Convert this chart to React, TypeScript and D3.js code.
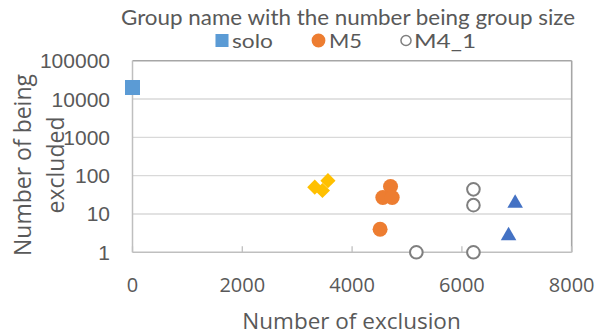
import React from 'react';
import * as d3 from 'd3';

const xTicks = [0, 2000, 4000, 6000, 8000];
const yTicks = [1, 10, 100, 1000, 10000, 100000];
const yTickLabels = ['1', '10', '100', '1000', '10000', '100000'];

const soloX = [0];
const soloY = [20000];
const m5X = [4510, 4700, 4560, 4730];
const m5Y = [4, 52, 27, 27];
const m41X = [5170, 6210, 6210, 6210];
const m41Y = [1, 1, 17, 44];
const diamondX = [3320, 3460, 3560];
const diamondY = [50, 41, 74];
const triangleX = [6850, 6970];
const triangleY = [2.7, 19];

const legendNames = ['solo', 'M5', 'M4_1'];

const W = 596;
const H = 336;
const TXT = '#595959';

export default function App() {
  const x = d3.scaleLinear().domain([0, 8000]).range([132.5, 571.7]);
  const y = d3.scaleLog().domain([1, 100000]).range([252.3, 60.7]);

  const square = d3.symbol().type(d3.symbolSquare).size(225)()!;
  const circle = d3.symbol().type(d3.symbolCircle).size(177)()!;
  const openCircle = d3.symbol().type(d3.symbolCircle).size(125)()!;
  const tri = d3.symbol().type(d3.symbolTriangle).size(105)()!;
  const dia = d3.symbol().type(d3.symbolSquare).size(115)()!;

  const legSquare = d3.symbol().type(d3.symbolSquare).size(170)()!;
  const legCircle = d3.symbol().type(d3.symbolCircle).size(150)()!;
  const legOpen = d3.symbol().type(d3.symbolCircle).size(80)()!;

  const x0 = x.range()[0];
  const x1 = x.range()[1];
  const yb = y.range()[0];
  const yt = y.range()[1];

  return (
    <svg width={W} height={H} style={{ position: 'absolute', left: 0, top: 0, background: '#fff' }}>
      <rect x={0} y={0} width={W} height={H} fill="#fff" />
      {/* title */}
      <text x={121} y={24.5} textLength={454} lengthAdjust="spacingAndGlyphs" fontFamily="Lato" fontSize={20.5} fill={TXT}>
        Group name with the number being group size
      </text>
      {/* legend */}
      <g fontFamily="Lato" fontSize={19} fill={TXT}>
        <path d={legSquare} transform="translate(222,40.5)" fill="#5b9bd5" />
        <text x={232} y={48} textLength={41} lengthAdjust="spacingAndGlyphs">{legendNames[0]}</text>
        <path d={legCircle} transform="translate(318.5,40.5)" fill="#ed7d31" />
        <text x={329} y={48} textLength={33} lengthAdjust="spacingAndGlyphs">{legendNames[1]}</text>
        <path d={legOpen} transform="translate(406,40.5)" fill="#fff" stroke="#7f7f7f" strokeWidth={1.5} />
        <text x={414} y={48} textLength={62} lengthAdjust="spacingAndGlyphs">{legendNames[2]}</text>
      </g>
      {/* gridlines */}
      {yTicks.slice(1, -1).map((t) => (
        <line key={t} x1={x0} x2={x1} y1={y(t)} y2={y(t)} stroke="#d9d9d9" strokeWidth={1.3} />
      ))}
      {/* plot frame top/right */}
      <line x1={x0} x2={x1} y1={yt} y2={yt} stroke="#a6a6a6" strokeWidth={1.6} />
      <line x1={x1} x2={x1} y1={yt} y2={yb} stroke="#a6a6a6" strokeWidth={1.6} />
      {/* axes */}
      <line x1={x0} x2={x0} y1={yt} y2={yb} stroke="#bfbfbf" strokeWidth={1.5} />
      <line x1={x0} x2={x1} y1={yb} y2={yb} stroke="#bfbfbf" strokeWidth={1.5} />
      {xTicks.map((t) => (
        <line key={t} x1={x(t)} x2={x(t)} y1={yb} y2={yb - 6} stroke="#bfbfbf" strokeWidth={1.3} />
      ))}
      {/* tick labels */}
      {xTicks.map((t) => (
        <text key={t} x={x(t)} y={292} textAnchor="middle" fontFamily="Open Sans" fontSize={20} fill={TXT}>
          {String(t)}
        </text>
      ))}
      {yTicks.map((t, i) => (
        <text key={t} x={110} y={y(t) + 7.5} textAnchor="end" fontFamily="Liberation Sans" fontSize={21} fill={TXT}>
          {yTickLabels[i]}
        </text>
      ))}
      {/* axis titles */}
      <text x={351.5} y={328.5} textAnchor="middle" fontFamily="Open Sans" fontSize={22.5} fill={TXT}>
        Number of exclusion
      </text>
      <text transform="translate(31,165) rotate(-90)" textAnchor="middle" fontFamily="Open Sans" fontSize={23} fill={TXT}>
        Number of being
      </text>
      <text transform="translate(64,165) rotate(-90)" textAnchor="middle" fontFamily="Open Sans" fontSize={23} fill={TXT}>
        excluded
      </text>
      {/* series */}
      {triangleX.map((v, i) => (
        <path key={'t' + i} d={tri} transform={`translate(${x(v)},${y(triangleY[i])})`} fill="#4472c4" />
      ))}
      {diamondX.map((v, i) => (
        <path key={'d' + i} d={dia} transform={`translate(${x(v)},${y(diamondY[i])}) rotate(45)`} fill="#ffc000" />
      ))}
      {m5X.map((v, i) => (
        <path key={'m' + i} d={circle} transform={`translate(${x(v)},${y(m5Y[i])})`} fill="#ed7d31" />
      ))}
      {m41X.map((v, i) => (
        <path key={'o' + i} d={openCircle} transform={`translate(${x(v)},${y(m41Y[i])})`} fill="#fff" stroke="#7f7f7f" strokeWidth={2} />
      ))}
      {soloX.map((v, i) => (
        <path key={'s' + i} d={square} transform={`translate(${x(v)},${y(soloY[i])})`} fill="#5b9bd5" />
      ))}
    </svg>
  );
}
